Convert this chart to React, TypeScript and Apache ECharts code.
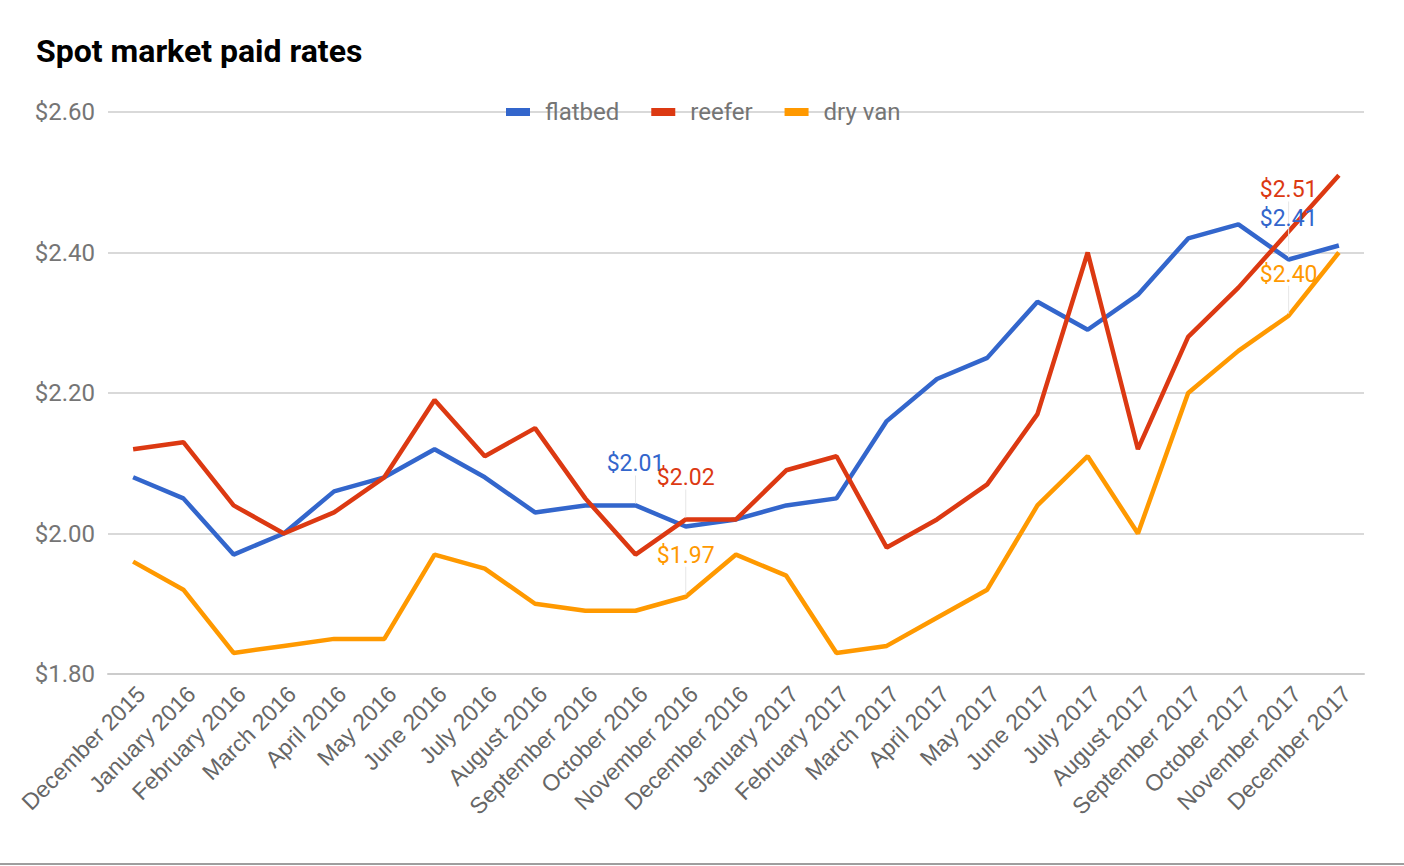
import React, { useEffect, useRef } from "react";
import * as echarts from "echarts";

const categories = [
  "December 2015", "January 2016", "February 2016", "March 2016", "April 2016", "May 2016",
  "June 2016", "July 2016", "August 2016", "September 2016", "October 2016", "November 2016",
  "December 2016", "January 2017", "February 2017", "March 2017", "April 2017", "May 2017",
  "June 2017", "July 2017", "August 2017", "September 2017", "October 2017", "November 2017",
  "December 2017",
];

const flatbed = [2.08, 2.05, 1.97, 2.0, 2.06, 2.08, 2.12, 2.08, 2.03, 2.04, 2.04, 2.01, 2.02, 2.04, 2.05, 2.16, 2.22, 2.25, 2.33, 2.29, 2.34, 2.42, 2.44, 2.39, 2.41];
const reefer = [2.12, 2.13, 2.04, 2.0, 2.03, 2.08, 2.19, 2.11, 2.15, 2.05, 1.97, 2.02, 2.02, 2.09, 2.11, 1.98, 2.02, 2.07, 2.17, 2.4, 2.12, 2.28, 2.35, 2.43, 2.51];
const dryVan = [1.96, 1.92, 1.83, 1.84, 1.85, 1.85, 1.97, 1.95, 1.9, 1.89, 1.89, 1.91, 1.97, 1.94, 1.83, 1.84, 1.88, 1.92, 2.04, 2.11, 2.0, 2.2, 2.26, 2.31, 2.4];

// annotations: [point index, annotation text]
const flatbedNotes: [number, string][] = [[10, "$2.01"], [23, "$2.41"]];
const reeferNotes: [number, string][] = [[11, "$2.02"], [23, "$2.51"]];
const dryVanNotes: [number, string][] = [[11, "$1.97"], [23, "$2.40"]];

const yTicks = { min: 1.8, max: 2.6, interval: 0.2 };

const COLORS = ["#3366cc", "#dc3912", "#ff9900"];

function notesToMarks(values: number[], notes: [number, string][], color: string) {
  return {
    silent: true,
    symbol: "rect",
    symbolSize: [1, 28],
    symbolOffset: [0, -16],
    itemStyle: { color: "#e6e6e6" },
    label: {
      show: true,
      position: "top",
      distance: 0,
      color,
      fontFamily: "Roboto",
      fontSize: 23,
    },
    data: notes.map(([i, text]) => ({
      coord: [i, values[i]],
      value: text,
      label: { formatter: text },
    })),
  };
}

export default function App() {
  const ref = useRef<HTMLDivElement>(null);
  useEffect(() => {
    if (!ref.current) return;
    const chart = echarts.init(ref.current, undefined, { renderer: "svg" });
    const mk = (name: string, data: number[], color: string, notes: [number, string][]) => ({
      name,
      type: "line",
      data,
      symbol: "none",
      lineStyle: { width: 4.5, color },
      itemStyle: { color },
      markPoint: notesToMarks(data, notes, color),
    });
    chart.setOption({
      animation: false,
      title: {
        text: "Spot market paid rates",
        left: 36,
        top: 35,
        padding: 0,
        textStyle: { fontFamily: "Roboto", fontWeight: "bold", fontSize: 32, color: "#000" },
      },
      legend: {
        top: 95,
        left: 501,
        icon: "rect",
        itemWidth: 24,
        itemHeight: 8,
        itemGap: 32,
        textStyle: { fontFamily: "Roboto", fontSize: 24, color: "#757575", padding: [0, 0, 0, 10] },
        data: ["flatbed", "reefer", "dry van"],
      },
      grid: { left: 108, right: 40, top: 112, bottom: 192, containLabel: false },
      xAxis: {
        type: "category",
        data: categories,
        boundaryGap: true,
        axisTick: { show: false },
        axisLine: { show: true, lineStyle: { color: "#cccccc", width: 2 } },
        axisLabel: {
          rotate: 45,
          interval: 0,
          margin: 8,
          verticalAlign: "top",
          fontFamily: "Liberation Sans, Arial",
          fontSize: 23,
          color: "#666666",
        },
      },
      yAxis: {
        type: "value",
        min: yTicks.min,
        max: yTicks.max,
        interval: yTicks.interval,
        axisLine: { show: false },
        axisTick: { show: false },
        splitLine: { lineStyle: { color: "#cccccc", width: 1.5 } },
        axisLabel: {
          margin: 13,
          fontFamily: "Roboto",
          fontSize: 24,
          color: "#757575",
          formatter: (v: number) => "$" + v.toFixed(2),
        },
      },
      series: [
        mk("flatbed", flatbed, COLORS[0], flatbedNotes),
        mk("reefer", reefer, COLORS[1], reeferNotes),
        mk("dry van", dryVan, COLORS[2], dryVanNotes),
      ],
      graphic: [
        {
          type: "line",
          shape: { x1: 0, y1: 864, x2: 1404, y2: 864 },
          style: { stroke: "#9e9e9e", lineWidth: 2 },
        },
      ],
    });
    return () => chart.dispose();
  }, []);
  return (
    <div
      ref={ref}
      style={{ position: "absolute", left: 0, top: 0, width: 1404, height: 866 }}
    />
  );
}
